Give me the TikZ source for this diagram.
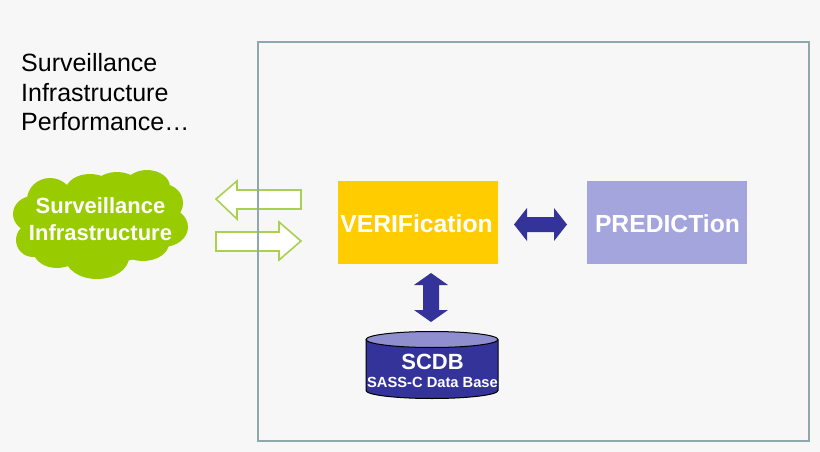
\documentclass[tikz,border=0pt]{standalone}
\usepackage{fontspec}
\setmainfont{Liberation Sans}
\definecolor{bgc}{HTML}{F7F7F7}
\definecolor{framec}{HTML}{8FA8AE}
\definecolor{cloudc}{HTML}{99CC00}
\definecolor{arrowg}{HTML}{A9D04F}
\definecolor{navy}{HTML}{333399}
\definecolor{lav}{HTML}{A5A5DE}
\definecolor{lavtop}{HTML}{8F8FD0}
\definecolor{gold}{HTML}{FFCC00}
\tikzset{
  blockbox/.style={minimum width=160pt,minimum height=83pt,inner sep=0pt},
  blocktext/.style={inner sep=0pt,text=white,font=\bfseries\fontsize{24.7}{28}\selectfont},
  hollowarrow/.style={fill=white,draw=arrowg,line width=1.6pt,line join=miter},
  solidarrow/.style={fill=navy,draw=none},
  lobe/.style={fill=cloudc,draw=none},
  plain/.style={inner sep=0pt,anchor=base west,font=\fontsize{25}{28}\selectfont},
  whitebold/.style={inner sep=0pt,text=white,font=\bfseries\fontsize{22}{26}\selectfont}
}
\begin{document}
\begin{tikzpicture}[x=1pt,y=-1pt]
\useasboundingbox (0,0) rectangle (820,452);
\fill[bgc] (0,0) rectangle (820,452);
% cloud
\foreach \cx/\cy/\rx/\ry in {33/214/20/18, 50/200/23/22, 90/190/24/16, 117/190/25/18, 147/187/23/17, 163/203/20/19, 163/227/25/20, 143/243/26/18, 97/257/32/22, 57/250/24/18, 33/240/17/17, 100/222/72/42}
  \fill[lobe] (\cx,\cy) ellipse [x radius=\rx, y radius=\ry];
\node[whitebold] (cloudtop) at (100.5,205.5) {Surveillance};
\node[whitebold] (cloudbot) at (100.5,232.5) {Infrastructure};
% hollow arrows
\draw[hollowarrow] (216,199) -- (237,181) -- (237,190) -- (301,190) -- (301,209) -- (237,209) -- (237,219) -- cycle;
\draw[hollowarrow] (216,232) -- (279,232) -- (279,222) -- (301,241) -- (279,260) -- (279,251) -- (216,251) -- cycle;
% frame
\draw[framec,line width=2.6pt] (258,42) rectangle (809,441);
% text
\node[plain] (t1) at (21,71.7) {Surveillance};
\node[plain] (t2) at (21,101.2) {Infrastructure};
\node[plain] (t3) at (21,130.7) {Performance…};
% blocks
\node[blockbox,fill=gold] (verif) at (418,222.5) {};
\node[blocktext] (veriftext) at (416.5,223.5) {VERIFication};
\node[blockbox,fill=lav] (pred) at (667,222.5) {};
\node[blocktext] (predtext) at (667.5,223.5) {PREDICTion};
% double arrows
\fill[solidarrow] (514,224.5) -- (527,208) -- (527,217) -- (554,217) -- (554,208) -- (567,224.5) -- (554,241) -- (554,232) -- (527,232) -- (527,241) -- cycle;
\fill[solidarrow] (431,273) -- (448,285) -- (439,285) -- (439,310) -- (448,310) -- (431,322) -- (414,310) -- (423,310) -- (423,285) -- (414,285) -- cycle;
% database
\draw[fill=navy,draw=black,line width=1pt] (366,339.5) -- (366,390.5) arc[start angle=180,end angle=0,x radius=66,y radius=8] -- (498,339.5);
\draw[fill=lavtop,draw=black,line width=1pt] (432,339.5) ellipse [x radius=66,y radius=8];
\node[whitebold] (scdb) at (432.5,361.5) {SCDB};
\node[inner sep=0pt,text=white,font=\bfseries\fontsize{14.7}{17}\selectfont] (scdbsub) at (432.5,382.5) {SASS-C Data Base};
\end{tikzpicture}
\end{document}
